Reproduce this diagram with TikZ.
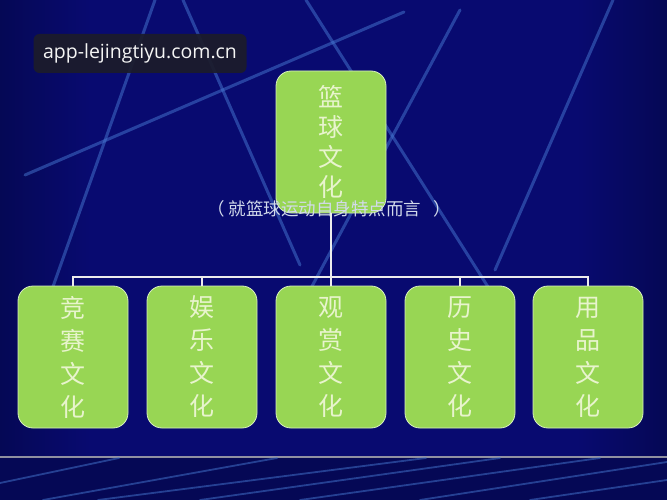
\documentclass[tikz,border=0pt]{standalone}
\usepackage{fontspec}
\setmainfont{Open Sans}
\newfontfamily\cjk{Noto Sans CJK SC}
\definecolor{bgblue}{RGB}{8,10,112}
\definecolor{bgdark}{RGB}{5,8,85}
\definecolor{streak}{RGB}{70,120,210}
\definecolor{boxgreen}{RGB}{152,214,84}
\definecolor{boxtext}{RGB}{232,244,205}
\definecolor{boxline}{RGB}{215,240,190}
\definecolor{subtext}{RGB}{210,218,235}
\definecolor{wmfill}{RGB}{28,28,42}
\tikzset{
  catbox/.style={draw=boxline, line width=0.8pt, fill=boxgreen, rounded corners=15pt,
    minimum width=110pt, minimum height=142pt, inner sep=0pt, align=center,
    text=boxtext, font=\cjk\fontsize{25}{33}\selectfont},
  topbox/.style={catbox, font=\cjk\fontsize{25}{30}\selectfont},
  conn/.style={draw=white!85!gray, line width=1.3pt},
  streakline/.style={draw=streak, line width=3pt, opacity=0.5, line cap=round},
  thinstreak/.style={draw=streak, line width=1.8pt, opacity=0.5, line cap=round},
  wmbox/.style={fill=wmfill, fill opacity=0.92, text opacity=1, rounded corners=6pt,
    minimum width=213pt, minimum height=39pt, inner sep=0pt, text=white!92!gray,
    font=\fontsize{19.5}{22}\selectfont},
  subnode/.style={text=subtext, font=\cjk\fontsize{17.5}{20}\selectfont, inner sep=0pt}
}
\begin{document}
\begin{tikzpicture}[x=1pt,y=-1pt]
\useasboundingbox (0,0) rectangle (667,500);
% background
\fill[bgblue] (0,0) rectangle (667,500);
\shade[left color=bgdark, right color=bgblue] (0,0) rectangle (90,457);
\shade[left color=bgblue, right color=bgdark] (577,0) rectangle (667,457);
\fill[bgdark] (0,457) rectangle (667,500);
% streaks upper
\draw[streakline] (25,175) -- (404,12);
\draw[streakline] (155,0) -- (50,295);
\draw[streakline] (183,0) -- (300,265);
\draw[streakline] (306,0) -- (490,290);
\draw[streakline] (460,10) -- (310,290);
\draw[streakline] (613,0) -- (495,270);
% bottom band
\draw[draw=gray!60!white, line width=1.2pt, opacity=0.8] (0,457) -- (667,457);
\draw[thinstreak] (0,483) -- (119,458);
\draw[thinstreak] (43,500) -- (277,458);
\draw[thinstreak] (98,500) -- (426,458);
\draw[thinstreak] (200,500) -- (500,458);
\draw[thinstreak] (300,500) -- (600,458);
\draw[thinstreak] (420,500) -- (667,462);
\draw[thinstreak] (530,500) -- (667,480);
% nodes
\node[topbox] (top) at (331,142) {篮\\球\\文\\化};
\node[catbox] (b1) at (73,357) {竞\\赛\\文\\化};
\node[catbox] (b2) at (202,357) {娱\\乐\\文\\化};
\node[catbox] (b3) at (331,357) {观\\赏\\文\\化};
\node[catbox] (b4) at (460,357) {历\\史\\文\\化};
\node[catbox] (b5) at (588,357) {用\\品\\文\\化};
\node[subnode] (sub) at (329,209) {（\hspace{4pt}就篮球运动自身特点而言\hspace{12pt}）};
% connectors
\coordinate (bus) at (331,277);
\draw[conn] (top.south) -- (bus);
\foreach \b in {b1,b2,b3,b4,b5} {\draw[conn] (bus) -| (\b.north);}
% watermark
\node[wmbox] (wm) at (140,53.5) {app-lejingtiyu.com.cn};
\end{tikzpicture}
\end{document}
